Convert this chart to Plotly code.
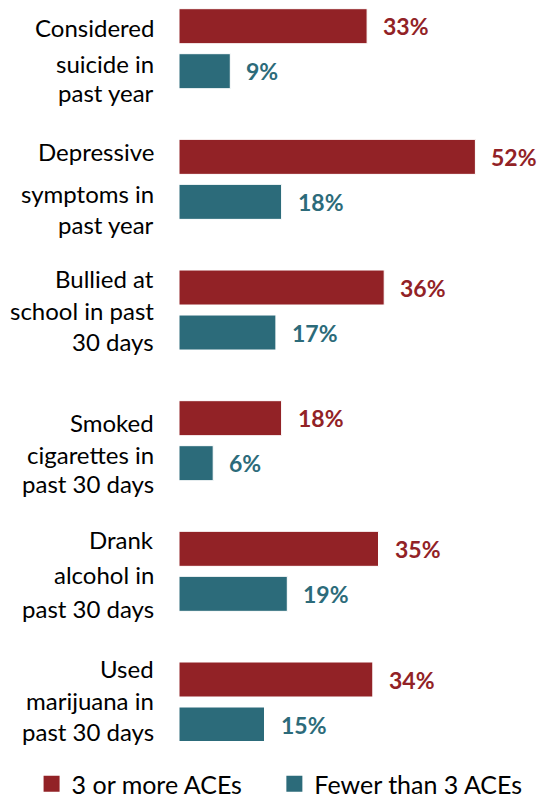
import plotly.graph_objects as go

# ---- data ----
categories = [
    "Considered suicide in past year",
    "Depressive symptoms in past year",
    "Bullied at school in past 30 days",
    "Smoked cigarettes in past 30 days",
    "Drank alcohol in past 30 days",
    "Used marijuana in past 30 days",
]
category_lines = [
    ["Considered", "suicide in", "past year"],
    ["Depressive", "symptoms in", "past year"],
    ["Bullied at", "school in past", "30 days"],
    ["Smoked", "cigarettes in", "past 30 days"],
    ["Drank", "alcohol in", "past 30 days"],
    ["Used", "marijuana in", "past 30 days"],
]
series_names = ["3 or more ACEs", "Fewer than 3 ACEs"]
aces_3plus = [33, 52, 36, 18, 35, 34]
aces_fewer = [9, 18, 17, 6, 19, 15]

# ---- style ----
RED = "#922226"
TEAL = "#2C6B7A"
FONT = "Lato"
# vertical nudge (px, up positive) of each label line relative to its group
label_line_shift = [
    [21, -15, -44],
    [28, -14, -45],
    [32, 0, -31],
    [18, -14, -43],
    [32, -3, -37],
    [34, 2, -29],
]

PLOT_TOP, PLOT_H = 0, 741
GROUP_PX = 130.66
FIRST_CENTER = 48.7
y_top = -FIRST_CENTER / GROUP_PX
y_bot = y_top + PLOT_H / GROUP_PX

fig = go.Figure()
legend_ids = ["legend", "legend2"]
for k, (name, vals, col) in enumerate([(series_names[0], aces_3plus, RED),
                                       (series_names[1], aces_fewer, TEAL)]):
    fig.add_trace(go.Bar(
        y=categories, x=vals, orientation="h", name=name,
        marker=dict(color=col, line=dict(color="white", width=1)),
        showlegend=False, hoverinfo="skip",
    ))
    # legend proxy with a larger square swatch
    fig.add_trace(go.Scatter(
        x=[None], y=[None], mode="markers", name=name,
        marker=dict(symbol="square", size=16, color=col),
        showlegend=True, legend=legend_ids[k],
    ))

annotations = []
for i, cat in enumerate(categories):
    for j, line in enumerate(category_lines[i]):
        annotations.append(dict(
            x=0, y=cat, xref="x", yref="y", text=line,
            showarrow=False, xanchor="right", yanchor="middle", align="right",
            xshift=-23, yshift=label_line_shift[i][j],
            font=dict(family=FONT, size=24, color="#000000"),
        ))
    for vals, col, ys in [(aces_3plus, RED, 22.5), (aces_fewer, TEAL, -22.5)]:
        annotations.append(dict(
            x=vals[i], y=cat, xref="x", yref="y", text=f"{vals[i]}%",
            showarrow=False, xanchor="left", yanchor="middle",
            xshift=14, yshift=ys,
            font=dict(family=FONT, size=23, color=col, weight="bold"),
        ))

legend_common = dict(
    orientation="h", xanchor="left",
    y=(PLOT_H - 784) / PLOT_H, yanchor="middle",
    font=dict(family=FONT, size=25, color="#000000"),
    bgcolor="rgba(0,0,0,0)", itemsizing="trace",
)

fig.update_layout(
    width=543, height=801,
    margin=dict(l=179, r=0, t=PLOT_TOP, b=801 - PLOT_H, autoexpand=False),
    paper_bgcolor="white", plot_bgcolor="white",
    barmode="group", bargap=0.3112, bargroupgap=0.2222,
    font=dict(family=FONT, size=24, color="#000000"),
    xaxis=dict(range=[0, 364 / 5.7], visible=False, fixedrange=True),
    yaxis=dict(
        type="category", categoryorder="array", categoryarray=categories,
        range=[y_bot, y_top], showticklabels=False, showgrid=False,
        zeroline=False, showline=False, ticks="", fixedrange=True,
    ),
    legend=dict(x=-0.405, **legend_common),
    legend2=dict(x=0.262, **legend_common),
    annotations=annotations,
)

fig.write_html("out.html")
